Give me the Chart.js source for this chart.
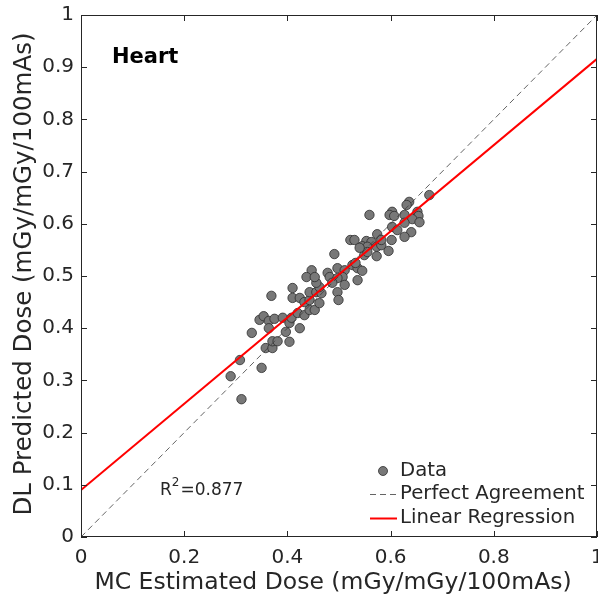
<!DOCTYPE html>
<html>
<head>
<meta charset="utf-8">
<script src="https://cdn.jsdelivr.net/npm/chart.js@4.4.0/dist/chart.umd.min.js"></script>
<style>
    html, body { margin: 0; padding: 0; background: #fff; overflow: hidden; }
    canvas { display: block; }
</style>
</head>
<body>
<canvas id="heartChart" width="598" height="606"></canvas>
<script>
// MC estimated dose (x) vs DL predicted dose (y)
const mcDose = [
    0.311, 0.290, 0.308, 0.350, 0.331, 0.358, 0.371, 0.371, 0.381, 0.397,
    0.404, 0.346, 0.354, 0.364, 0.364, 0.375, 0.391, 0.404, 0.408, 0.420,
    0.424, 0.369, 0.410, 0.410, 0.424, 0.433, 0.433, 0.443, 0.443, 0.453,
    0.462, 0.443, 0.456, 0.466, 0.462, 0.456, 0.447, 0.437, 0.453, 0.478,
    0.482, 0.497, 0.511, 0.507, 0.511, 0.497, 0.487, 0.497, 0.499, 0.491,
    0.526, 0.536, 0.545, 0.536, 0.549, 0.532, 0.522, 0.530, 0.553, 0.563,
    0.545, 0.555, 0.573, 0.582, 0.555, 0.540, 0.596, 0.573, 0.574, 0.602,
    0.582, 0.559, 0.603, 0.598, 0.607, 0.627, 0.636, 0.631, 0.652, 0.654,
    0.642, 0.656, 0.603, 0.613, 0.640, 0.627, 0.675, 0.627
];
const dlDose = [
    0.264, 0.308, 0.339, 0.324, 0.391, 0.362, 0.362, 0.375, 0.375, 0.393,
    0.374, 0.416, 0.423, 0.414, 0.400, 0.418, 0.420, 0.410, 0.420, 0.429,
    0.400, 0.462, 0.477, 0.458, 0.458, 0.425, 0.450, 0.454, 0.435, 0.435,
    0.448, 0.469, 0.469, 0.467, 0.479, 0.487, 0.511, 0.498, 0.498, 0.506,
    0.498, 0.515, 0.511, 0.498, 0.483, 0.496, 0.487, 0.469, 0.454, 0.542,
    0.521, 0.515, 0.510, 0.492, 0.540, 0.525, 0.569, 0.569, 0.567, 0.565,
    0.557, 0.556, 0.556, 0.559, 0.546, 0.554, 0.548, 0.538, 0.580, 0.569,
    0.569, 0.617, 0.623, 0.617, 0.615, 0.617, 0.642, 0.636, 0.623, 0.615,
    0.609, 0.603, 0.594, 0.588, 0.584, 0.575, 0.655, 0.602
];

// fitted line and stats shown on the figure
const fitSlope = 0.826;
const fitIntercept = 0.09;
const rSquared = '0.877';

const axisRange = [0, 1];
const xTicks = [0, 0.2, 0.4, 0.6, 0.8, 1];
const yTicks = [0, 0.1, 0.2, 0.3, 0.4, 0.5, 0.6, 0.7, 0.8, 0.9, 1];
const xTitle = 'MC Estimated Dose (mGy/mGy/100mAs)';
const yTitle = 'DL Predicted Dose (mGy/mGy/100mAs)';
const organ = 'Heart';
const legendLabels = ['Data', 'Perfect Agreement', 'Linear Regression'];

const textColor = '#262626';
const fontFamily = '"DejaVu Sans", sans-serif';

function tickText(v) {
    return v === 0 || v === 1 ? String(v) : v.toFixed(1);
}

// box, inward ticks, tick labels, titles, annotations and legend
const framePlugin = {
    id: 'frame',
    afterDraw(chart) {
        const ctx = chart.ctx;
        const a = chart.chartArea;
        const x = chart.scales.x;
        const y = chart.scales.y;
        const tl = 6;
        ctx.save();
        ctx.strokeStyle = textColor;
        ctx.lineWidth = 1;
        ctx.strokeRect(a.left + 0.5, a.top + 0.5, a.right - a.left - 1, a.bottom - a.top - 1);

        ctx.beginPath();
        xTicks.forEach(v => {
            const px = Math.round(x.getPixelForValue(v)) + 0.5;
            ctx.moveTo(px, a.bottom); ctx.lineTo(px, a.bottom - tl);
            ctx.moveTo(px, a.top); ctx.lineTo(px, a.top + tl);
        });
        yTicks.forEach(v => {
            const py = Math.round(y.getPixelForValue(v)) + 0.5;
            ctx.moveTo(a.left, py); ctx.lineTo(a.left + tl, py);
            ctx.moveTo(a.right, py); ctx.lineTo(a.right - tl, py);
        });
        ctx.stroke();

        ctx.fillStyle = textColor;
        ctx.font = '20px ' + fontFamily;
        ctx.textAlign = 'center';
        ctx.textBaseline = 'middle';
        xTicks.forEach(v => {
            ctx.fillText(tickText(v), x.getPixelForValue(v), a.bottom + 21);
        });
        ctx.textAlign = 'right';
        yTicks.forEach(v => {
            ctx.fillText(tickText(v), a.left - 7, y.getPixelForValue(v));
        });

        // axis titles
        ctx.font = '23.5px ' + fontFamily;
        ctx.textAlign = 'center';
        ctx.fillText(xTitle, 333, 583);
        ctx.save();
        ctx.translate(25, 274);
        ctx.rotate(-Math.PI / 2);
        ctx.font = '24.5px ' + fontFamily;
        ctx.fillText(yTitle, 0, 0);
        ctx.restore();

        // organ name
        ctx.fillStyle = '#000';
        ctx.font = 'bold 21px ' + fontFamily;
        ctx.textAlign = 'left';
        ctx.fillText(organ, 112, 58);

        // R^2
        ctx.fillStyle = textColor;
        ctx.font = '17px ' + fontFamily;
        ctx.fillText('R', 160, 491);
        const rw = ctx.measureText('R').width;
        ctx.font = '12px ' + fontFamily;
        ctx.fillText('2', 160 + rw, 483);
        const sw = ctx.measureText('2').width;
        ctx.font = '17px ' + fontFamily;
        ctx.fillText('=' + rSquared, 160 + rw + sw + 1, 491);

        // legend
        const ds = chart.data.datasets;
        const rows = [471, 494, 518];
        ctx.font = '19.7px ' + fontFamily;
        ctx.textBaseline = 'middle';
        legendLabels.forEach((lab, i) => {
            const d = ds[i];
            const cy = rows[i];
            if (i === 0) {
                ctx.beginPath();
                ctx.arc(383, cy, 4.5, 0, Math.PI * 2);
                ctx.fillStyle = d.backgroundColor;
                ctx.fill();
                ctx.strokeStyle = d.borderColor;
                ctx.lineWidth = d.borderWidth;
                ctx.stroke();
            } else {
                ctx.beginPath();
                ctx.setLineDash(d.borderDash || []);
                ctx.strokeStyle = d.borderColor;
                ctx.lineWidth = d.borderWidth;
                ctx.moveTo(370, cy + 0.5);
                ctx.lineTo(397, cy + 0.5);
                ctx.stroke();
                ctx.setLineDash([]);
            }
            ctx.fillStyle = textColor;
            ctx.fillText(lab, 400, cy);
        });
        ctx.restore();
    }
};

const ctx = document.getElementById('heartChart').getContext('2d');
new Chart(ctx, {
    type: 'scatter',
    data: {
        datasets: [{
            label: legendLabels[0],
            data: mcDose.map((v, i) => ({ x: v, y: dlDose[i] })),
            backgroundColor: 'rgb(120,120,120)',
            borderColor: 'rgb(45,45,45)',
            borderWidth: 0.8,
            pointRadius: 4.7,
            order: 3
        }, {
            label: legendLabels[1],
            data: axisRange.map(v => ({ x: v, y: v })),
            showLine: true,
            borderColor: 'rgb(60,60,60)',
            borderWidth: 0.8,
            borderDash: [6, 4],
            pointRadius: 0,
            order: 2
        }, {
            label: legendLabels[2],
            data: axisRange.map(v => ({ x: v, y: fitIntercept + fitSlope * v })),
            showLine: true,
            borderColor: 'rgb(255,0,0)',
            borderWidth: 2,
            pointRadius: 0,
            order: 1
        }]
    },
    options: {
        responsive: false,
        animation: false,
        layout: {
            autoPadding: false,
            padding: { left: 81, right: 1, top: 15, bottom: 69 }
        },
        scales: {
            x: { type: 'linear', min: 0, max: 1, display: false },
            y: { type: 'linear', min: 0, max: 1, display: false }
        },
        plugins: {
            legend: { display: false },
            tooltip: { enabled: false }
        }
    },
    plugins: [framePlugin]
});
</script>
</body>
</html>
